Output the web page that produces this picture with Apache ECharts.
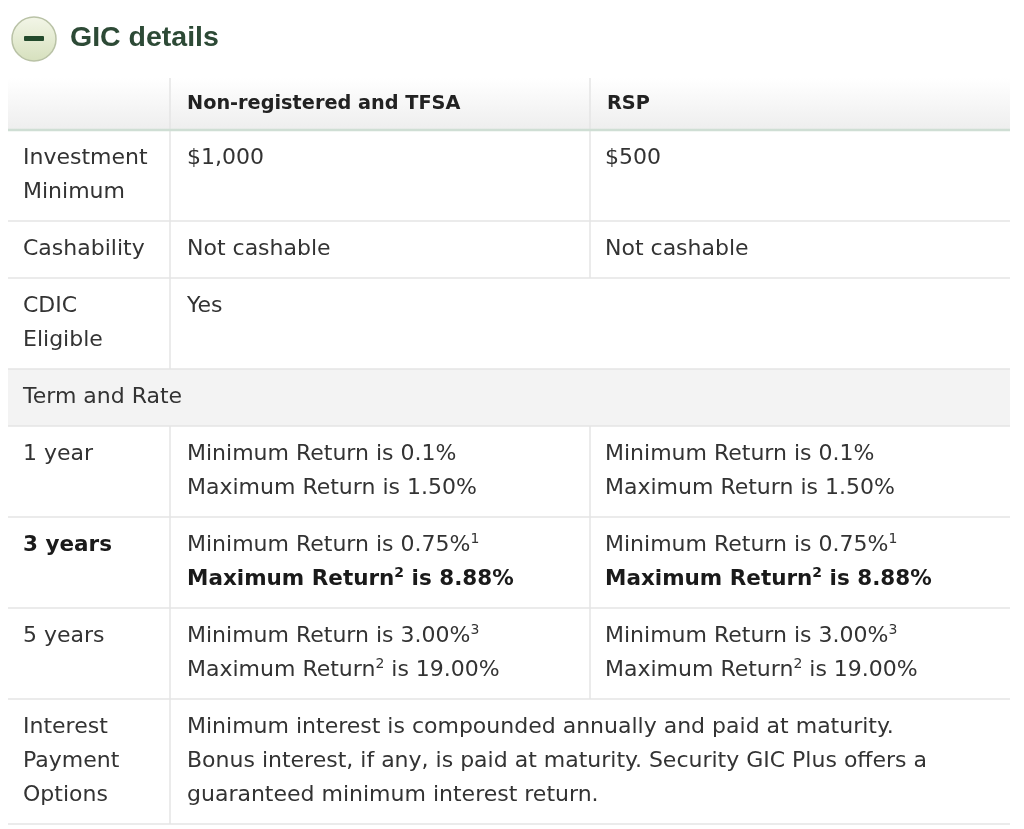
<!DOCTYPE html>
<html><head><meta charset="utf-8">
<script src="https://cdn.jsdelivr.net/npm/echarts@6/dist/echarts.min.js"></script>
<style>html,body{margin:0;padding:0;background:#fff}#c{width:1024px;height:829px}</style>
</head><body><div id="c"></div>
<script>
const title = 'GIC details';
const headers = ['', 'Non-registered and TFSA', 'RSP'];
const rowLabels = [
  ['Investment','Minimum'],
  ['Cashability'],
  ['CDIC','Eligible'],
  ['Term and Rate'],
  ['1 year'],
  ['{b|3 years}'],
  ['5 years'],
  ['Interest','Payment','Options']
];
const col1Cells = [
  ['$1,000'],
  ['Not cashable'],
  ['Yes'],
  null,
  ['Minimum Return is 0.1%','Maximum Return is 1.50%'],
  ['Minimum Return is 0.75%{s|1}','{b|Maximum Return}{bs|2}{b| is 8.88%}'],
  ['Minimum Return is 3.00%{s|3}','Maximum Return{s|2} is 19.00%'],
  ['Minimum interest is compounded annually and paid at maturity.','Bonus interest, if any, is paid at maturity. Security GIC Plus offers a','guaranteed minimum interest return.']
];
const col2Cells = [
  ['$500'],
  ['Not cashable'],
  null,
  null,
  ['Minimum Return is 0.1%','Maximum Return is 1.50%'],
  ['Minimum Return is 0.75%{s|1}','{b|Maximum Return}{bs|2}{b| is 8.88%}'],
  ['Minimum Return is 3.00%{s|3}','Maximum Return{s|2} is 19.00%'],
  null
];
// span: 1 = normal, 2 = col1 spans col1+col2, 3 = label spans all
const rowSpan = [1,1,2,3,1,1,1,2];

const FONT = 'DejaVu Sans, Verdana, sans-serif';
const FS = 22;
const colX = [8, 170, 590, 1010];
const LH = 34, PAD = 23;
const headTop = 78, headBot = 130;
const lineCol = '#e4e4e4';
const rich = {
  b: {fontWeight:'bold', fontSize:21.5, fontFamily:FONT, fill:'#1a1a1a'},
  s: {fontSize:14, fontFamily:FONT, fill:'#333', padding:[0,0,12,0]},
  bs: {fontSize:14, fontWeight:'bold', fontFamily:FONT, fill:'#1a1a1a', padding:[0,0,12,0]}
};
function txt(x, y, lines, extra) {
  return {type:'text', x:x, y:y, z:5, style:Object.assign({
    text: lines.join('\n'), fontSize:FS, fontFamily:FONT, fill:'#333',
    lineHeight:LH, verticalAlign:'top', align:'left', rich:rich}, extra||{})};
}
const els = [];
// title
els.push({type:'circle', shape:{cx:34, cy:39, r:22}, style:{
  fill:{type:'linear',x:0,y:0,x2:0,y2:1,colorStops:[{offset:0,color:'#f3f6e8'},{offset:1,color:'#d6e0bd'}]},
  stroke:'#b9c2a6', lineWidth:1.5}});
els.push({type:'rect', shape:{x:24, y:36, width:20, height:5, r:1}, style:{fill:'#234a2c'}});
els.push({type:'text', x:70, y:38, style:{text:title, fontSize:28.5, fontWeight:'bold', fontFamily:'Liberation Sans, Arial, sans-serif', fill:'#2d4a36', verticalAlign:'middle'}});
// header
els.push({type:'rect', shape:{x:colX[0], y:headTop, width:colX[3]-colX[0], height:headBot-headTop},
  style:{fill:{type:'linear',x:0,y:0,x2:0,y2:1,colorStops:[{offset:0,color:'#ffffff'},{offset:1,color:'#eeeeee'}]}}});
headers.forEach((h,i)=>{ if(h) els.push(txt(colX[i]+17, headTop+26, [h], {fontWeight:'bold', fontSize:19.3, fill:'#222', verticalAlign:'middle'})); });
els.push({type:'line', shape:{x1:colX[1], y1:headTop, x2:colX[1], y2:headBot}, style:{stroke:lineCol, lineWidth:1.5}});
els.push({type:'line', shape:{x1:colX[2], y1:headTop, x2:colX[2], y2:headBot}, style:{stroke:lineCol, lineWidth:1.5}});
// rows
let y = headBot;
rowLabels.forEach((lab, r)=>{
  const n = Math.max(lab.length, (col1Cells[r]||[]).length, (col2Cells[r]||[]).length);
  const h = PAD + LH*n;
  if (rowSpan[r]===3) els.push({type:'rect', shape:{x:colX[0], y:y, width:colX[3]-colX[0], height:h}, style:{fill:'#f3f3f3'}});
  els.push(txt(colX[0]+15, y+11, lab));
  if (col1Cells[r]) els.push(txt(colX[1]+17, y+11, col1Cells[r]));
  if (col2Cells[r]) els.push(txt(colX[2]+15, y+11, col2Cells[r]));
  if (rowSpan[r]!==3) els.push({type:'line', shape:{x1:colX[1], y1:y, x2:colX[1], y2:y+h}, style:{stroke:lineCol, lineWidth:1.5}});
  if (rowSpan[r]===1) els.push({type:'line', shape:{x1:colX[2], y1:y, x2:colX[2], y2:y+h}, style:{stroke:lineCol, lineWidth:1.5}});
  els.push({type:'line', shape:{x1:colX[0], y1:y, x2:colX[3], y2:y}, style:{stroke: r===0 ? '#cfded4' : lineCol, lineWidth: r===0 ? 2.5 : 1.5}, z:6});
  y += h;
});
els.push({type:'line', shape:{x1:colX[0], y1:y, x2:colX[3], y2:y}, style:{stroke:lineCol, lineWidth:1.5}});
const chart = echarts.init(document.getElementById('c'));
chart.setOption({backgroundColor:'#fff', graphic:{elements:els}});
</script></body></html>
